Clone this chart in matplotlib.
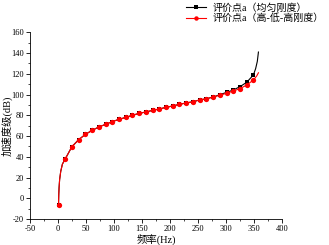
import numpy as np
import matplotlib
matplotlib.use('Agg')
import matplotlib.pyplot as plt
from matplotlib.lines import Line2D
from matplotlib.ticker import MultipleLocator

plt.rcParams['font.family'] = ['Liberation Serif', 'Noto Sans CJK SC']
plt.rcParams['axes.unicode_minus'] = False

# marker points (every 12 Hz)
freq_mk = np.arange(1, 350, 12)
red_mk = [-6.5, 37.9, 49.8, 56.5, 61.6, 65.5, 68.7, 71.3, 73.9, 76.1,
          78.0, 80.0, 81.9, 83.2, 84.8, 86.1, 87.7, 89.0, 90.6, 91.9,
          93.1, 94.8, 96.0, 97.6, 99.3, 101.2, 103.4, 105.7, 109.2, 114.0]
black_mk = red_mk[:24] + [99.9, 102.1, 104.4, 107.6, 111.8, 118.9]

# extra line points (steep ends)
start_f = [1, 1.5, 2, 3, 5, 8]
start_v = [-6.5, 4, 10, 18, 26, 33]
red_end_f = [355, 358]
red_end_v = [118, 121]
black_end_f = [353, 356, 358]
black_end_v = [125, 132, 141]

def line_series(mk, ef, ev):
    f = list(start_f) + list(freq_mk[1:]) + ef
    v = list(start_v) + list(mk[1:]) + ev
    return f, v

fig = plt.figure(figsize=(3.29, 2.45), dpi=100)
ax = fig.add_axes([0.091, 0.106, 0.766, 0.762])

bf, bv = line_series(black_mk, black_end_f, black_end_v)
rf, rv = line_series(red_mk, red_end_f, red_end_v)
ax.plot(bf, bv, color='black', lw=0.8)
ax.plot(freq_mk, black_mk, 's', color='black', ms=3.4, mew=0)
ax.plot(rf, rv, color='red', lw=0.8)
ax.plot(freq_mk, red_mk, 'o', color='red', ms=3.8, mew=0)

ax.set_xlim(-50, 400)
ax.set_ylim(-20, 160)
ax.xaxis.set_major_locator(MultipleLocator(50))
ax.xaxis.set_minor_locator(MultipleLocator(25))
ax.yaxis.set_major_locator(MultipleLocator(20))
ax.yaxis.set_minor_locator(MultipleLocator(10))
ax.tick_params(which='major', direction='out', length=3, width=0.6, labelsize=6, pad=1.2)
ax.tick_params(which='minor', direction='out', length=1.5, width=0.5)
for s in ['top', 'right']:
    ax.spines[s].set_visible(False)
for s in ['left', 'bottom']:
    ax.spines[s].set_linewidth(0.6)

ax.set_xlabel('频率(Hz)', fontsize=7.5, labelpad=0.5)
ax.set_ylabel('加速度级(dB)', fontsize=7.5)
ax.yaxis.set_label_coords(-0.07, 0.5)

handles = [Line2D([], [], color='black', lw=0.8, marker='s', ms=3, mew=0),
           Line2D([], [], color='red', lw=0.8, marker='o', ms=3.2, mew=0)]
labels = ['评价点a（均匀刚度）', '评价点a（高-低-高刚度）']
fig.legend(handles, labels, loc='upper right', bbox_to_anchor=(1.012, 1.025),
           frameon=False, fontsize=7.2, handlelength=2.0, handletextpad=0.7,
           labelspacing=0.1)

fig.savefig('out.png', dpi=100)
